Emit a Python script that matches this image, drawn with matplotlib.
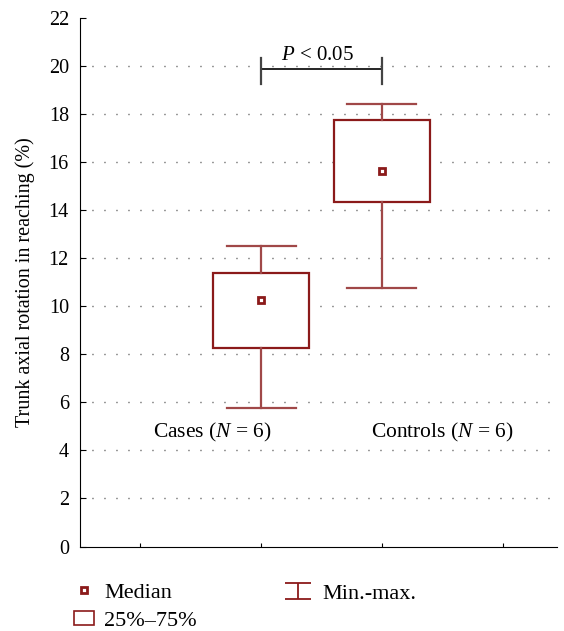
import matplotlib
matplotlib.use("Agg")
import matplotlib.pyplot as plt
from matplotlib.lines import Line2D
from matplotlib.patches import Patch
from matplotlib.path import Path

plt.rcParams['font.family'] = ['Liberation Serif', 'DejaVu Serif']
plt.rcParams['mathtext.fontset'] = 'custom'
plt.rcParams['mathtext.it'] = 'Liberation Serif:italic'
plt.rcParams['mathtext.rm'] = 'Liberation Serif'

# data
groups = ['Cases ($\\mathit{N}$ = 6)', 'Controls ($\\mathit{N}$ = 6)']
positions = [2, 3]
label_x = [1.6, 3.5]
mins = [5.76, 10.74]
q1 = [8.26, 14.33]
medians = [10.25, 15.64]
q3 = [11.39, 17.75]
maxs = [12.51, 18.4]
yticks = list(range(0, 23, 2))
p_text = '$\\mathit{P}$ < 0.05'

red = '#8b1a1a'
whisk = '#a04848'

fig = plt.figure(figsize=(5.64, 6.31), dpi=100)
ax = fig.add_axes([80 / 564, 1 - 546.5 / 631, 477 / 564, 528.5 / 631])

stats = []
for i in range(len(positions)):
    stats.append(dict(med=medians[i], q1=q1[i], q3=q3[i],
                      whislo=mins[i], whishi=maxs[i], fliers=[]))

ax.bxp(stats, positions=positions, widths=0.8, capwidths=0.57,
       showfliers=False, patch_artist=True,
       boxprops=dict(facecolor='white', edgecolor=red, linewidth=1.6),
       whiskerprops=dict(color=whisk, linewidth=1.6),
       capprops=dict(color=whisk, linewidth=1.6),
       medianprops=dict(linewidth=0))
ax.plot(positions, medians, linestyle='none', marker='s', markersize=5,
        markerfacecolor='white', markeredgecolor=red, markeredgewidth=2,
        zorder=5)

for x, g in zip(label_x, groups):
    ax.text(x, 4.75, g, ha='center', va='center', fontsize=15.5)

# significance bracket
ax.plot([positions[0], positions[1]], [19.88, 19.88], color='black', lw=1.2)
for x in positions:
    ax.plot([x, x], [19.25, 20.35], color='#444444', lw=1.6)
ax.text(2.47, 20.05, p_text, ha='center', va='bottom', fontsize=15)

ax.set_xlim(0.5, 4.45)
ax.set_ylim(0, 22)
ax.set_yticks(yticks)
ax.set_xticks([1, 2, 3, 4])
ax.set_xticklabels([])
ax.tick_params(direction='in', length=4, labelsize=14.5, pad=8)
ax.tick_params(axis='x', length=3)
for y in yticks[1:-1]:
    ax.axhline(y, color='#333333', lw=1.0, linestyle=(0, (0.7, 7.94)), zorder=0)
ax.spines['top'].set_visible(False)
ax.spines['right'].set_visible(False)
ax.set_ylabel('Trunk axial rotation in reaching (%)', fontsize=14.5, labelpad=10)

# legend
med_h = Line2D([], [], linestyle='none', marker='s', markersize=5,
               markerfacecolor='white', markeredgecolor=red, markeredgewidth=2)
box_h = Patch(facecolor='white', edgecolor=red, linewidth=1.2)
cap_path = Path([(-1, 0.6), (1, 0.6), (0, 0.6), (0, -0.6), (-1, -0.6), (1, -0.6)],
                [Path.MOVETO, Path.LINETO, Path.MOVETO, Path.LINETO,
                 Path.MOVETO, Path.LINETO])
mm_h = Line2D([], [], linestyle='none', marker=cap_path, markersize=19,
              markeredgecolor=red, markeredgewidth=1.3, color=red)

leg1 = fig.legend([med_h, box_h], ['Median', '25%–75%'],
                  loc='upper left', bbox_to_anchor=(74 / 564, 1 - 583 / 631),
                  frameon=False, fontsize=16, handlelength=0.9,
                  handleheight=0.6, handletextpad=0.45, labelspacing=0.38,
                  borderpad=0, borderaxespad=0)
leg2 = fig.legend([mm_h], ['Min.-max.'],
                  loc='upper left', bbox_to_anchor=(284 / 564, 1 - 583 / 631),
                  frameon=False, fontsize=16, handlelength=1.22,
                  handletextpad=0.5, borderpad=0, borderaxespad=0)

fig.savefig('out.png', dpi=100)
